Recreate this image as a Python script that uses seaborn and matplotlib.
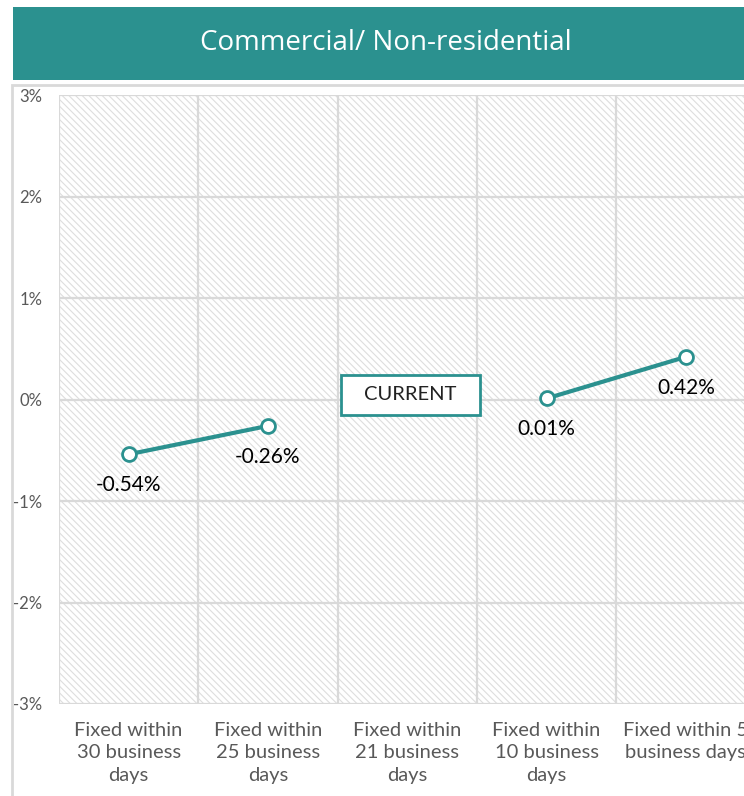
import numpy as np
import pandas as pd
import matplotlib
matplotlib.use("Agg")
import matplotlib.pyplot as plt
import seaborn as sns
from matplotlib.patches import Rectangle

categories = ["Fixed within\n30 business\ndays", "Fixed within\n25 business\ndays",
              "Fixed within\n21 business\ndays", "Fixed within\n10 business\ndays",
              "Fixed within 5\nbusiness days"]
values = [-0.54, -0.26, np.nan, 0.01, 0.42]
segments = ["a", "a", "none", "b", "b"]
label_texts = ["-0.54%", "-0.26%", "", "0.01%", "0.42%"]
yticks = [-3, -2, -1, 0, 1, 2, 3]
title = "Commercial/ Non-residential"
current_label = "CURRENT"

TEAL = "#2b918f"
GRID = "#d9d9d9"

sns.set_theme(style="white")
plt.rcParams['font.family'] = ['Lato', 'DejaVu Sans']
plt.rcParams['hatch.linewidth'] = 0.8

W, H = 744, 796
fig = plt.figure(figsize=(W / 100, H / 100), dpi=100)

# title banner
fig.patches.append(Rectangle((13 / W, 1 - 80 / H), (W - 13) / W, 73 / H,
                             transform=fig.transFigure, facecolor=TEAL, edgecolor="none"))
fig.text((13 + W) / 2 / W + 0.01, 1 - 43 / H, title, color="white", fontsize=20,
         ha="center", va="center", family=['Open Sans', 'DejaVu Sans'])
# outer frame
fig.patches.append(Rectangle((12 / W, -0.01), 1.0, (H - 85) / H + 0.01,
                             transform=fig.transFigure, facecolor="none",
                             edgecolor=GRID, linewidth=2))

left, right, top, bottom = 59, 59 + 5 * 139.3, 95, 704
ax = fig.add_axes([left / W, 1 - bottom / H, (right - left) / W, (bottom - top) / H])
ax.set_facecolor("white")
ax.add_patch(Rectangle((-0.5, -3), 5, 6, facecolor="white", edgecolor="#dedede",
                       hatch="\\\\\\\\\\", linewidth=0, zorder=0))

df = pd.DataFrame({"x": range(len(categories)), "y": values, "seg": segments})
df = df.dropna()
sns.lineplot(data=df, x="x", y="y", units="seg", estimator=None, color=TEAL,
             linewidth=3, marker="o", markersize=10, markerfacecolor="white",
             markeredgecolor=TEAL, markeredgewidth=2, ax=ax, legend=False, zorder=5)

for i, (v, t) in enumerate(zip(values, label_texts)):
    if t:
        ax.annotate(t, (i, v), xytext=(0, -31), textcoords="offset pixels",
                    ha="center", va="center", fontsize=15, color="black", zorder=6)

# CURRENT box
ax.add_patch(Rectangle((1.524, -0.148), 0.998, 0.394, facecolor="white",
                       edgecolor=TEAL, linewidth=2, zorder=6))
ax.text(2.02, 0.05, current_label, ha="center", va="center", fontsize=14.5,
        color="#222222", zorder=7)

ax.set_xlim(-0.5, 4.5)
ax.set_ylim(-3, 3)
ax.set_yticks(yticks)
ax.set_yticklabels([f"{t}%" for t in yticks], color="#595959", fontsize=12)
ax.set_xticks(range(len(categories)))
ax.set_xticklabels(categories, color="#595959", fontsize=14.5, linespacing=1.38)
ax.tick_params(axis="x", which="both", length=0, pad=13)
ax.tick_params(axis="y", length=0, pad=12)
ax.grid(False)
for y in yticks:
    ax.axhline(y, color=GRID, linewidth=1.6, zorder=1)
for x in np.arange(-0.5, 5, 1):
    ax.axvline(x, color=GRID, linewidth=1.6, zorder=1)
for s in ax.spines.values():
    s.set_visible(False)
ax.set_xlabel("")
ax.set_ylabel("")

fig.savefig("out.png", dpi=100)
